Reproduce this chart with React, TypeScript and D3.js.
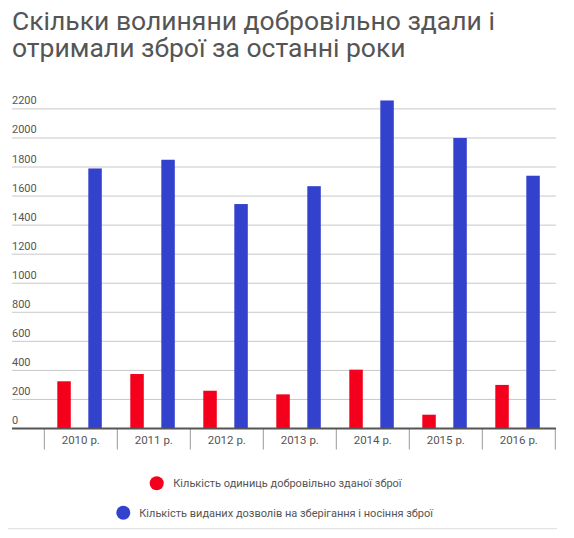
import React from "react";
import * as d3 from "d3";

const years = ["2010 р.", "2011 р.", "2012 р.", "2013 р.", "2014 р.", "2015 р.", "2016 р."];
const surrendered = [325, 375, 260, 235, 405, 95, 300];
const permits = [1790, 1850, 1545, 1668, 2258, 2000, 1740];
const yTicks = [0, 200, 400, 600, 800, 1000, 1200, 1400, 1600, 1800, 2000, 2200];
const seriesNames = [
  "Кількість одиниць добровільно зданої зброї",
  "Кількість виданих дозволів на зберігання і носіння зброї",
];
const titleLines = ["Скільки волиняни добровільно здали і", "отримали зброї за останні роки"];

const RED = "#f4001d";
const BLUE = "#3342cc";
const FONT = "Roboto, 'Noto Sans', sans-serif";

export default function App() {
  const W = 574;
  const H = 538;
  const gridLeft = 12;
  const gridRight = 556;
  const y = d3.scaleLinear().domain([0, 2200]).range([428.5, 108.9]);
  const x0 = d3.scaleBand<string>().domain(years).range([44.3, 555.3]).padding(0);
  const x1 = d3
    .scaleBand<string>()
    .domain(["a", "b"])
    .range([13, 57.5])
    .paddingInner(0.565)
    .paddingOuter(0);
  const series = [
    { key: "a", values: surrendered, color: RED },
    { key: "b", values: permits, color: BLUE },
  ];
  const boundaries = years.map((yr) => x0(yr)!).concat([x0.range()[1]]);

  return (
    <svg
      width={W}
      height={H}
      style={{ position: "absolute", left: 0, top: 0, background: "#fff" }}
      fontFamily={FONT}
    >
      <rect width={W} height={H} fill="#fff" />
      <text x={12} y={30} fontSize={26.5} fill="#555">
        {titleLines.map((t, i) => (
          <tspan key={i} x={12} dy={i === 0 ? 0 : 26.7}>
            {t}
          </tspan>
        ))}
      </text>
      {yTicks.map((t) => (
        <g key={t}>
          {t !== 0 && (
            <line x1={gridLeft} x2={gridRight} y1={y(t)} y2={y(t)} stroke="#c8c8c8" strokeWidth={1} />
          )}
          <text x={gridLeft} y={y(t) - 4.5} fontSize={11} fill="#555">
            {t}
          </text>
        </g>
      ))}
      {series.map((s) =>
        s.values.map((v, i) => (
          <rect
            key={s.key + i}
            x={x0(years[i])! + x1(s.key)!}
            y={y(v)}
            width={x1.bandwidth()}
            height={y(0) - y(v)}
            fill={s.color}
          />
        ))
      )}
      {boundaries.map((b, i) => (
        <line key={i} x1={b} x2={b} y1={y(0)} y2={449.5} stroke="#999" strokeWidth={1} />
      ))}
      <line x1={gridLeft} x2={gridRight} y1={y(0)} y2={y(0)} stroke="#555" strokeWidth={2} />
      {years.map((yr) => (
        <text
          key={yr}
          x={x0(yr)! + x0.bandwidth() / 2}
          y={444}
          fontSize={11.5}
          fill="#555"
          textAnchor="middle"
        >
          {yr}
        </text>
      ))}
      <circle cx={156.7} cy={483.3} r={7} fill={RED} />
      <text x={173.3} y={487.3} fontSize={11} fill="#555">
        {seriesNames[0]}
      </text>
      <circle cx={123.3} cy={512.7} r={7} fill={BLUE} />
      <text x={139.3} y={516.7} fontSize={11} fill="#555">
        {seriesNames[1]}
      </text>
      <line x1={8} x2={557} y1={528.7} y2={528.7} stroke="#ddd" strokeWidth={1} />
    </svg>
  );
}
